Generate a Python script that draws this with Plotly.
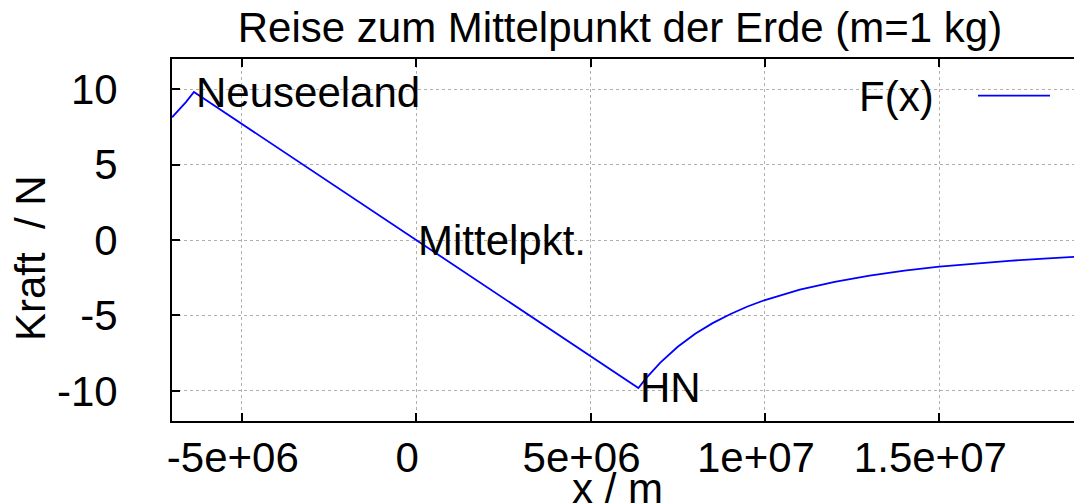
import plotly.graph_objects as go

# Data (x in metres, force in newtons)
x_m = [-7.0e6, -6.8e6, -6.6e6, -6.371e6, -3.0e6, 0.0, 3.0e6, 6.371e6,
       6.6e6, 6.8e6, 7.0e6, 7.5e6, 8.0e6, 8.5e6, 9.0e6, 9.5e6, 1.0e7,
       1.1e7, 1.2e7, 1.3e7, 1.4e7, 1.5e7, 1.6e7, 1.7e7, 1.8e7, 1.9e7]
force_N = [8.13, 8.61, 9.14, 9.81, 4.62, 0.0, -4.62, -9.81,
           -9.14, -8.61, -8.13, -7.08, -6.22, -5.51, -4.92, -4.41, -3.98,
           -3.29, -2.77, -2.36, -2.03, -1.77, -1.56, -1.38, -1.23, -1.10]

x_tickvals = [-5e6, 0, 5e6, 1e7, 1.5e7]
x_ticktext = ["-5e+06", "0", "5e+06", "1e+07", "1.5e+07"]
y_tickvals = [-10, -5, 0, 5, 10]
y_ticktext = ["-10", "-5", "0", "5", "10"]

labels = ["Neuseeland", "Mittelpkt.", "HN"]
label_x = [-6.371e6, 0.0, 6.371e6]
label_y = [9.81, 0.0, -9.81]

FONT = "Liberation Sans, Arial, sans-serif"
FS = 42

fig = go.Figure()
fig.add_trace(go.Scatter(x=x_m, y=force_N, mode="lines", name="F(x)",
                         line=dict(color="#0000ff", width=1.8),
                         showlegend=False))

for t, lx, ly in zip(labels, label_x, label_y):
    fig.add_annotation(x=lx, y=ly, text=t, xref="x", yref="y",
                       xanchor="left", yanchor="middle", showarrow=False,
                       font=dict(family=FONT, size=FS, color="black"))

# legend (gnuplot style: text left, sample right)
fig.add_annotation(x=(936 - 172) / 902, y=(421 - 96) / 362, xref="paper", yref="paper",
                   text="F(x)", xanchor="right", yanchor="middle", showarrow=False,
                   font=dict(family=FONT, size=FS, color="black"))
fig.add_shape(type="line", xref="paper", yref="paper",
              x0=(978 - 172) / 902, x1=(1050 - 172) / 902,
              y0=(421 - 95.7) / 362, y1=(421 - 95.7) / 362,
              line=dict(color="#0000ff", width=1.8))

# axis titles
fig.add_annotation(x=(30 - 172) / 902, y=(421 - 258) / 362, xref="paper", yref="paper",
                   text="Kraft\u00a0 / N", textangle=-90, showarrow=False,
                   xanchor="center", yanchor="middle",
                   font=dict(family=FONT, size=FS, color="black"))
fig.add_annotation(x=(617 - 172) / 902, y=(421 - 488) / 362, xref="paper", yref="paper",
                   text="x / m", showarrow=False, xanchor="center", yanchor="middle",
                   font=dict(family=FONT, size=FS, color="black"))

fig.update_layout(
    width=1074, height=503,
    margin=dict(l=172, r=0, t=59, b=82, autoexpand=False),
    paper_bgcolor="white", plot_bgcolor="white",
    font=dict(family=FONT, size=FS, color="black"),
    title=dict(text="Reise zum Mittelpunkt der Erde (m=1 kg)",
               x=620 / 1074, xanchor="center", xref="container",
               y=1 - 27 / 503, yanchor="middle", yref="container",
               font=dict(family=FONT, size=FS, color="black")),
    xaxis=dict(range=[-7.0e6, 1.886e7], tickvals=x_tickvals, ticktext=x_ticktext,
               ticks="inside", ticklen=8, tickwidth=1.5, tickcolor="black",
               showline=True, linecolor="black", linewidth=2, mirror="ticks",
               showgrid=True, gridcolor="#b0b0b0", griddash="dot", gridwidth=1,
               zeroline=False, ticklabelshift=-9, ticklabelstandoff=-1,
               automargin=False,
               tickfont=dict(family=FONT, size=FS, color="black")),
    yaxis=dict(range=[-12, 12], tickvals=y_tickvals, ticktext=y_ticktext,
               ticks="inside", ticklen=8, tickwidth=1.5, tickcolor="black",
               showline=True, linecolor="black", linewidth=2,
               showgrid=True, gridcolor="#b0b0b0", griddash="dot", gridwidth=1,
               zeroline=False, ticklabelstandoff=44, automargin=False,
               tickfont=dict(family=FONT, size=FS, color="black")),
)

fig.write_html("out.html", config={"displayModeBar": False},
               post_script="document.body.style.margin='0';document.body.style.overflow='hidden';")
